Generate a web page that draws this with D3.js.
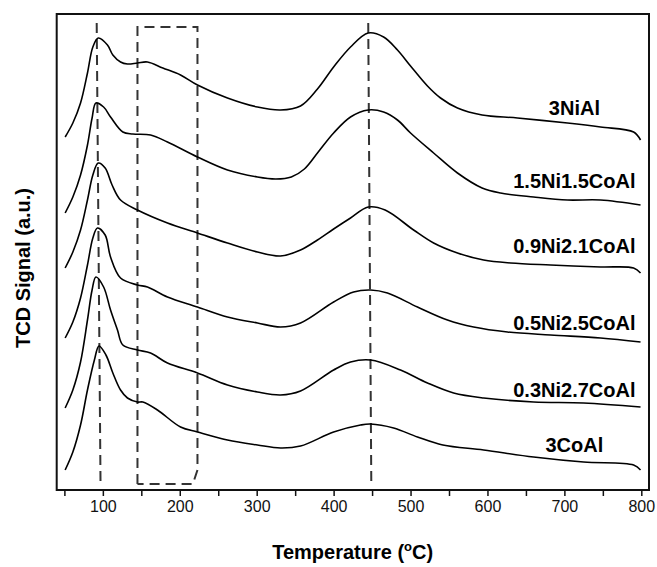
<!DOCTYPE html>
<html>
<head>
<meta charset="utf-8">
<script src="https://cdn.jsdelivr.net/npm/d3@7/dist/d3.min.js"></script>
<style>
  body { margin: 0; background: #fff; }
  text { font-family: Arial, "Liberation Sans", sans-serif; }
</style>
</head>
<body>
<div id="chart"></div>
<script>
const width = 657;
const height = 567;
const margin = { left: 56.7, right: 8, top: 14, bottom: 77 };

// TPR traces, [temperature °C, signal a.u.] (stacked offsets included)
const s3NiAl = [[51,353],[61,367],[71,387],[80,417],[87,443],[94,452],[106,445],[113,435],[123,428],[132,426],[145,427],[158,428],[178,422],[201,415],[223,405],[262,392],[301,383],[331,380],[357,384],[379,401],[400,423],[422,443],[445,457],[465,453],[483,440],[500,424],[522,404],[539,392],[561,382],[593,375],[639,372],[704,367],[747,363],[790,358],[799,350]];
const s15Ni15CoAl = [[51,277],[61,293],[71,315],[80,345],[86,372],[91,387],[101,383],[110,373],[126,358],[139,356],[162,355],[184,348],[223,333],[262,320],[301,313],[325,311],[345,313],[362,321],[380,338],[400,357],[422,373],[445,380],[465,378],[483,370],[500,357],[530,337],[561,317],[593,302],[617,297],[660,293],[704,290],[747,290],[799,285]];
const s09Ni21CoAl = [[51,222],[61,238],[71,260],[80,290],[87,315],[94,327],[103,322],[112,305],[123,290],[145,280],[184,267],[223,257],[262,247],[301,238],[331,234],[357,240],[379,250],[400,261],[422,272],[445,283],[467,280],[504,260],[530,247],[561,237],[595,230],[630,227],[682,225],[747,223],[790,222],[799,217]];
const s05Ni25CoAl = [[51,152],[61,168],[71,192],[80,225],[87,252],[93,262],[103,255],[110,233],[123,212],[145,205],[158,203],[184,193],[223,183],[262,173],[301,167],[331,163],[357,167],[400,188],[426,198],[448,200],[470,197],[509,183],[548,170],[582,163],[626,158],[682,155],[747,152],[799,148]];
const s03Ni27CoAl = [[51,82],[61,100],[71,128],[80,170],[86,200],[91,213],[101,203],[110,180],[119,160],[126,145],[145,140],[162,137],[184,127],[223,117],[262,105],[301,98],[331,95],[357,99],[400,120],[422,128],[448,130],[487,120],[522,107],[556,97],[595,92],[660,88],[725,87],[799,83]];
const s3CoAl = [[51,20],[61,38],[71,65],[80,100],[89,130],[95,144],[104,135],[113,117],[123,100],[132,92],[145,88],[152,88],[171,80],[201,63],[223,58],[262,50],[301,45],[331,42],[357,44],[400,58],[435,65],[448,66],[478,62],[509,53],[542,45],[595,40],[660,33],[725,28],[790,25],[799,20]];

const seriesNames = ['3NiAl', '1.5Ni1.5CoAl', '0.9Ni2.1CoAl', '0.5Ni2.5CoAl', '0.3Ni2.7CoAl', '3CoAl'];
const seriesData = [s3NiAl, s15Ni15CoAl, s09Ni21CoAl, s05Ni25CoAl, s03Ni27CoAl, s3CoAl];
const labelSignal = [375, 302, 237, 160, 93, 38];
const labelTemp = 713;

const xTicks = d3.range(50, 801, 50);
// dashed guides: [temp at top, temp at bottom]
const peakLines = [[92, 97], [445, 449]];
const boxTemps = [145, 223];

const w = width - margin.left - margin.right;
const h = height - margin.top - margin.bottom;

const x = d3.scaleLinear().domain([40, 810]).range([0, w]);
const y = d3.scaleLinear().domain([0, 476]).range([h, 0]);

const svg = d3.select('#chart')
  .append('svg')
    .attr('width', width)
    .attr('height', height)
  .append('g')
    .attr('transform', 'translate(' + margin.left + ',' + margin.top + ')');

// dashed guides
svg.selectAll('.peak-line')
    .data(peakLines)
  .join('line')
    .attr('class', 'peak-line')
    .attr('x1', d => x(d[0]))
    .attr('x2', d => x(d[1]))
    .attr('y1', y(467))
    .attr('y2', y(4))
    .attr('stroke', '#333')
    .attr('stroke-width', 2)
    .attr('stroke-dasharray', '10,6');

const boxLine = d3.line().x(d => x(d[0])).y(d => y(d[1]));
svg.append('path')
  .attr('d', boxLine([
    [boxTemps[0], 6], [boxTemps[0], 463], [boxTemps[1], 463],
    [boxTemps[1], 20], [boxTemps[1] - 6, 6], [boxTemps[0], 6]
  ]))
  .attr('fill', 'none')
  .attr('stroke', '#333')
  .attr('stroke-width', 2)
  .attr('stroke-dasharray', '10,6');

// traces
const line = d3.line()
  .x(d => x(d[0]))
  .y(d => y(d[1]))
  .curve(d3.curveCatmullRom.alpha(0.5));

svg.selectAll('.trace')
    .data(seriesData)
  .join('path')
    .attr('class', 'trace')
    .attr('d', line)
    .attr('fill', 'none')
    .attr('stroke', '#000')
    .attr('stroke-width', 1.6);

svg.selectAll('.label')
    .data(seriesNames)
  .join('text')
    .attr('class', 'label')
    .attr('x', x(labelTemp))
    .attr('y', (d, i) => y(labelSignal[i]))
    .attr('text-anchor', 'middle')
    .attr('font-size', 20)
    .attr('font-weight', 'bold')
    .text(d => d);

// axis
const xAxis = svg.append('g')
  .attr('transform', 'translate(0,' + h + ')')
  .call(d3.axisBottom(x)
    .tickValues(xTicks)
    .tickSize(6)
    .tickSizeOuter(0)
    .tickPadding(5)
    .tickFormat(d => d % 100 === 0 ? d : ''));
xAxis.select('.domain').remove();
xAxis.selectAll('.tick line').attr('stroke', '#111').attr('stroke-width', 1.5);
xAxis.selectAll('.tick text')
  .attr('font-size', 16)
  .attr('font-family', 'Arial, "Liberation Sans", sans-serif')
  .attr('fill', '#111');

// frame
svg.append('rect')
  .attr('width', w)
  .attr('height', h)
  .attr('fill', 'none')
  .attr('stroke', '#111')
  .attr('stroke-width', 2);

// titles
const xt = svg.append('text')
  .attr('x', 296)
  .attr('y', h + 69)
  .attr('text-anchor', 'middle')
  .attr('font-size', 20)
  .attr('font-weight', 'bold');
xt.append('tspan').text('Temperature (');
xt.append('tspan').attr('font-size', 13).attr('dy', -8).text('o');
xt.append('tspan').attr('dy', 8).text('C)');

svg.append('text')
  .attr('transform', 'translate(' + (30 - margin.left) + ',' + (268 - margin.top) + ') rotate(-90)')
  .attr('text-anchor', 'middle')
  .attr('font-size', 20)
  .attr('font-weight', 'bold')
  .text('TCD Signal (a.u.)');
</script>
</body>
</html>
